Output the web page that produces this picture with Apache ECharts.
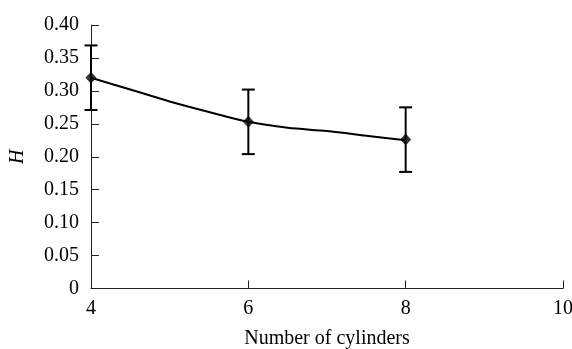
<!DOCTYPE html>
<html>
<head>
<meta charset="utf-8">
<script src="https://cdn.jsdelivr.net/npm/echarts@6/dist/echarts.min.js"></script>
<style>html,body{margin:0;padding:0;background:#fff}#c{width:572px;height:349px}</style>
</head>
<body>
<div id="c"></div>
<script>
// Measured points (cylinders, H) and error (±)
const cylinders = [4, 6, 8];
const hValues = [0.320, 0.253, 0.226];
const hError = [0.049, 0.049, 0.049];
// Trend line
const lineX = [4, 4.5, 5, 5.5, 6, 6.5, 7, 7.5, 8];
const lineY = [0.320, 0.302, 0.284, 0.268, 0.253, 0.244, 0.239, 0.232, 0.225];
const xTicks = [4, 6, 8, 10];
const yTicks = [0, 0.05, 0.10, 0.15, 0.20, 0.25, 0.30, 0.35, 0.40];

const font = 'Liberation Serif';
const chart = echarts.init(document.getElementById('c'), null, {renderer: 'canvas'});
chart.setOption({
  animation: false,
  grid: {left: 91, right: 9, top: 25, bottom: 60.5, containLabel: false, outerBoundsMode: 'none'},
  xAxis: {
    type: 'value', min: xTicks[0], max: xTicks[xTicks.length - 1], interval: 2,
    name: 'Number of cylinders', nameLocation: 'middle', nameGap: 40,
    nameTextStyle: {fontFamily: font, fontSize: 20, color: '#000'},
    axisLine: {show: true, lineStyle: {color: '#222', width: 1}},
    axisTick: {show: true, inside: true, length: 8, lineStyle: {color: '#222'}},
    axisLabel: {fontFamily: font, fontSize: 20, color: '#000', margin: 10},
    splitLine: {show: false}
  },
  yAxis: {
    type: 'value', min: yTicks[0], max: yTicks[yTicks.length - 1], interval: 0.05,
    name: 'H', nameLocation: 'middle', nameGap: 63, nameRotate: 90,
    nameTextStyle: {fontFamily: font, fontSize: 20, fontStyle: 'italic', color: '#000'},
    axisLine: {show: true, lineStyle: {color: '#222', width: 1}},
    axisTick: {show: true, inside: true, length: 8, lineStyle: {color: '#222'}},
    axisLabel: {fontFamily: font, fontSize: 20, color: '#000', margin: 12,
      formatter: v => v === 0 ? '0' : v.toFixed(2)},
    splitLine: {show: false}
  },
  series: [
    {
      type: 'line', data: lineX.map((x, i) => [x, lineY[i]]),
      showSymbol: false, smooth: 0.3,
      lineStyle: {color: '#000', width: 2}
    },
    {
      type: 'custom',
      data: cylinders.map((x, i) => [x, hValues[i] - hError[i], hValues[i] + hError[i]]),
      renderItem: function (params, api) {
        const lo = api.coord([api.value(0), api.value(1)]);
        const hi = api.coord([api.value(0), api.value(2)]);
        const w = 6.5;
        const st = {stroke: '#000', lineWidth: 2};
        return {type: 'group', children: [
          {type: 'line', shape: {x1: lo[0], y1: lo[1], x2: hi[0], y2: hi[1]}, style: st},
          {type: 'line', shape: {x1: lo[0] - w, y1: lo[1], x2: lo[0] + w, y2: lo[1]}, style: st},
          {type: 'line', shape: {x1: hi[0] - w, y1: hi[1], x2: hi[0] + w, y2: hi[1]}, style: st}
        ]};
      },
      z: 3
    },
    {
      type: 'scatter', data: cylinders.map((x, i) => [x, hValues[i]]),
      symbol: 'diamond', symbolSize: [11, 12],
      itemStyle: {color: '#000'}, z: 4
    }
  ]
});
</script>
</body>
</html>
